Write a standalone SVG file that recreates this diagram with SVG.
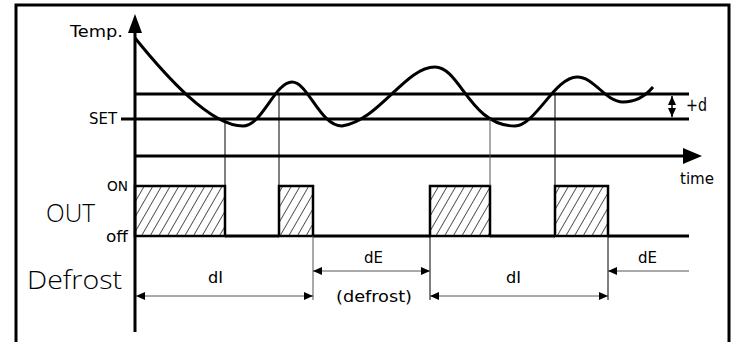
<svg xmlns="http://www.w3.org/2000/svg" width="741" height="342" viewBox="0 0 741 342">
<style>
text{font-family:"DejaVu Sans","Liberation Sans",sans-serif;fill:#000}
.big{font-family:"Open Sans","Liberation Sans",sans-serif;font-weight:300}
.thick{stroke:#000;stroke-width:3;fill:none}
.thin{stroke:#000;stroke-width:1;fill:none}
.gray{stroke:#555;stroke-width:1;fill:none}
.hatch{fill:url(#h);stroke:#000;stroke-width:2.5}
</style>
<defs>
<pattern id="h" patternUnits="userSpaceOnUse" width="7.5" height="20" patternTransform="rotate(30)">
<line x1="0" y1="0" x2="0" y2="20" stroke="#000" stroke-width="1.3"/>
</pattern>
<marker id="s" markerWidth="9" markerHeight="8" refX="9" refY="4" orient="auto-start-reverse" markerUnits="userSpaceOnUse">
<path d="M0,0 L9,4 L0,8 Z" fill="#000"/>
</marker>
</defs>
<rect x="0" y="0" width="741" height="342" fill="#fff"/>
<rect id="frame" x="16" y="5" width="713" height="345" fill="none" stroke="#000" stroke-width="3"/>

<g id="axes">
<line class="thick" x1="135" y1="30" x2="135" y2="332"/>
<path d="M128,33 L135,14 L142,33 Z" fill="#000"/>
<line class="thick" x1="135" y1="156" x2="684" y2="156"/>
<path d="M683,148 L702,156 L683,164 Z" fill="#000"/>
<line class="thick" x1="135" y1="94" x2="689" y2="94"/>
<line class="thick" x1="121" y1="119" x2="689" y2="119"/>
</g>

<g id="curve">
<path class="thick" d="M135,38 C165,75 210,126 243,126 C262,126 275,82 292,82 C308,82 320,126 342,126 C380,120 405,67 435,67 C460,67 470,126 515,126 C535,126 555,77 577,77 C595,77 605,102 623,102 C638,102 648,93 653,87"/>
</g>

<g id="out">
<rect class="hatch" x="135" y="186" width="90" height="50"/>
<rect class="hatch" x="279" y="186" width="34" height="50"/>
<rect class="hatch" x="430" y="186" width="60" height="50"/>
<rect class="hatch" x="555" y="186" width="53" height="50"/>
<line class="thick" x1="225" y1="236" x2="279" y2="236"/>
<line class="thick" x1="313" y1="236" x2="430" y2="236"/>
<line class="thick" x1="490" y1="236" x2="555" y2="236"/>
<line class="thick" x1="608" y1="236" x2="689" y2="236"/>
</g>

<g id="connectors">
<line class="thin" x1="225" y1="119" x2="225" y2="186"/>
<line class="thin" x1="279" y1="94" x2="279" y2="186"/>
<line class="gray" x1="490" y1="119" x2="490" y2="186"/>
<line class="thin" x1="555" y1="94" x2="555" y2="186"/>
<line class="gray" x1="313" y1="236" x2="313" y2="300"/>
<line class="thin" x1="430" y1="236" x2="430" y2="300"/>
<line class="thin" x1="608" y1="236" x2="608" y2="300"/>
<line class="gray" x1="136" y1="296" x2="313" y2="296" marker-start="url(#s)" marker-end="url(#s)"/>
<line class="gray" x1="313" y1="271" x2="430" y2="271" marker-start="url(#s)" marker-end="url(#s)"/>
<line class="gray" x1="430" y1="296" x2="608" y2="296" marker-start="url(#s)" marker-end="url(#s)"/>
<line class="gray" x1="689" y1="271" x2="608" y2="271" marker-end="url(#s)"/>
<line stroke="#000" stroke-width="1.5" x1="672" y1="96" x2="672" y2="117" marker-start="url(#s)" marker-end="url(#s)"/>
</g>

<g id="labels">
<text x="70" y="37" font-size="16" textLength="53" lengthAdjust="spacingAndGlyphs">Temp.</text>
<text x="89" y="124" font-size="16" textLength="28" lengthAdjust="spacingAndGlyphs">SET</text>
<text x="686" y="111" font-size="17" textLength="21" lengthAdjust="spacingAndGlyphs">+d</text>
<text x="680" y="184" font-size="16" textLength="34" lengthAdjust="spacingAndGlyphs">time</text>
<text x="107" y="191" font-size="14" textLength="21" lengthAdjust="spacingAndGlyphs">ON</text>
<text x="106" y="242" font-size="15" textLength="22" lengthAdjust="spacingAndGlyphs">off</text>
<text class="big" x="46" y="222" font-size="26" textLength="49" lengthAdjust="spacingAndGlyphs">OUT</text>
<text class="big" x="27" y="289" font-size="26" textLength="95" lengthAdjust="spacingAndGlyphs">Defrost</text>
<text x="208" y="283" font-size="15" textLength="15" lengthAdjust="spacingAndGlyphs">dI</text>
<text x="364" y="263" font-size="15" textLength="19" lengthAdjust="spacingAndGlyphs">dE</text>
<text x="336" y="302" font-size="16" textLength="76" lengthAdjust="spacingAndGlyphs">(defrost)</text>
<text x="506" y="283" font-size="15" textLength="15" lengthAdjust="spacingAndGlyphs">dI</text>
<text x="638" y="263" font-size="15" textLength="19" lengthAdjust="spacingAndGlyphs">dE</text>
</g>
</svg>
